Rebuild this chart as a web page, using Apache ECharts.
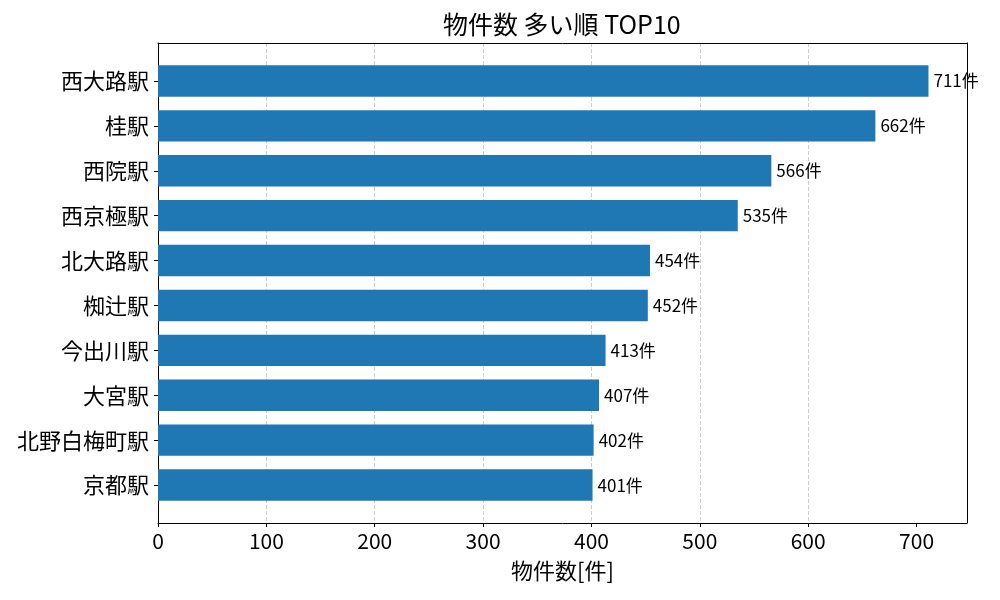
<!DOCTYPE html>
<html>
<head>
<meta charset="utf-8">
<script src="https://cdn.jsdelivr.net/npm/echarts@6/dist/echarts.min.js"></script>
<style>
html,body{margin:0;padding:0;background:#fff;}
#main{width:1000px;height:600px;}
</style>
</head>
<body>
<div id="main"></div>
<script>
// データ
var stations = ['西大路駅', '桂駅', '西院駅', '西京極駅', '北大路駅', '椥辻駅', '今出川駅', '大宮駅', '北野白梅町駅', '京都駅'];
var counts = [711, 662, 566, 535, 454, 452, 413, 407, 402, 401];
var xTicks = [0, 100, 200, 300, 400, 500, 600, 700];

var FONT = '"Noto Sans CJK JP", "Noto Sans", sans-serif';
var xMax = 746.55;

var myChart = echarts.init(document.getElementById('main'));

myChart.setOption({
	animation: false,
	textStyle: { fontFamily: FONT },
	graphic: [{
		type: 'text',
		left: 443, top: 12,
		style: { text: '物件数 多い順 TOP10', font: '25px ' + FONT, fill: '#000' }
	}],
	grid: [
		// 枠と目盛り用
		{ left: 158, top: 43, width: 809, height: 480 },
		// 棒グラフ用
		{ left: 158, top: 58.5, width: 809, height: 449 }
	],
	xAxis: [{
		gridIndex: 0,
		type: 'value',
		position: 'bottom',
		min: 0, max: xMax, interval: 100,
		axisLine: { show: true, lineStyle: { color: '#000', width: 1 } },
		axisTick: { show: true, length: 4, customValues: xTicks, lineStyle: { color: '#000' } },
		axisLabel: {
			color: '#000', fontSize: 21, margin: 8,
			customValues: xTicks
		},
		splitLine: { show: true, showMinLine: false, showMaxLine: false, lineStyle: { color: '#cccccc', type: 'dashed', width: 1 } },
		name: '物件数[件]',
		nameLocation: 'middle',
		nameGap: 37,
		nameTextStyle: { color: '#000', fontSize: 22 }
	}, {
		// 上の枠線
		gridIndex: 0,
		type: 'value',
		position: 'top',
		min: 0, max: xMax,
		axisLine: { show: true, onZero: false, lineStyle: { color: '#000', width: 1 } },
		axisTick: { show: false },
		axisLabel: { show: false },
		splitLine: { show: false }
	}, {
		gridIndex: 1,
		type: 'value',
		min: 0, max: xMax,
		show: false
	}],
	yAxis: [{
		// 左の枠線
		gridIndex: 0,
		type: 'value',
		position: 'left',
		min: 0, max: 1,
		axisLine: { show: true, onZero: false, lineStyle: { color: '#000', width: 1 } },
		axisTick: { show: false },
		axisLabel: { show: false },
		splitLine: { show: false }
	}, {
		// 右の枠線
		gridIndex: 0,
		type: 'value',
		position: 'right',
		min: 0, max: 1,
		axisLine: { show: true, onZero: false, lineStyle: { color: '#000', width: 1 } },
		axisTick: { show: false },
		axisLabel: { show: false },
		splitLine: { show: false }
	}, {
		gridIndex: 1,
		type: 'category',
		inverse: true,
		data: stations,
		axisLine: { show: false },
		axisTick: { show: true, alignWithLabel: true, length: 4, lineStyle: { color: '#000' } },
		axisLabel: { color: '#000', fontSize: 22, margin: 9 },
		splitLine: { show: false }
	}],
	series: [{
		type: 'bar',
		xAxisIndex: 2,
		yAxisIndex: 2,
		data: counts,
		barWidth: '70%',
		itemStyle: { color: '#1f77b4' },
		label: {
			show: true,
			position: 'right',
			distance: 5,
			color: '#000',
			fontSize: 17,
			formatter: '{c}件'
		}
	}]
});
</script>
</body>
</html>
